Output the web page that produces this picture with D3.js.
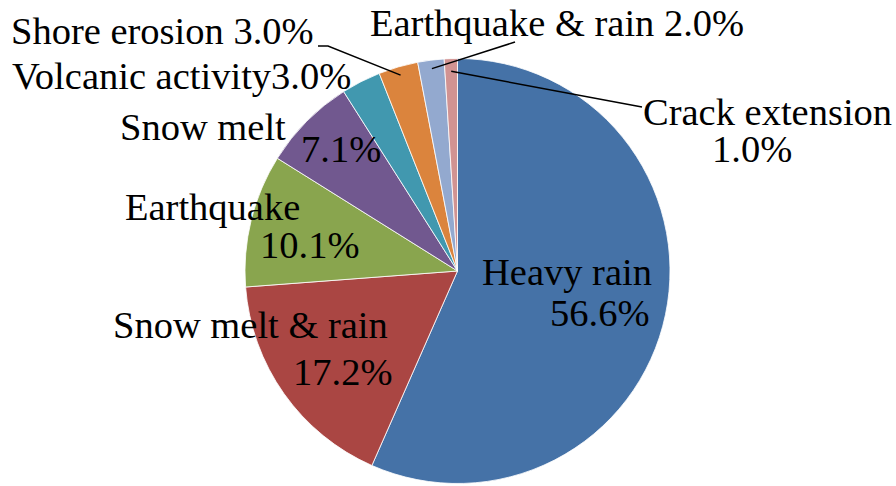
<!DOCTYPE html>
<html>
<head>
<meta charset="utf-8">
<script src="https://cdn.jsdelivr.net/npm/d3@7"></script>
<style>
  html, body { margin: 0; padding: 0; background: #fff; }
  svg { display: block; }
</style>
</head>
<body>
<svg id="chart" width="896" height="486"></svg>
<script>
// Landslide triggers, share of cases (%)
const categories = ["Heavy rain", "Snow melt & rain", "Earthquake", "Snow melt",
                    "Volcanic activity", "Shore erosion", "Earthquake & rain", "Crack extension"];
const values = [56.6, 17.2, 10.1, 7.1, 3.0, 3.0, 2.0, 1.0];
const colors = ["#4572A7", "#AA4643", "#89A54E", "#71588F",
                "#4198AF", "#DB843D", "#93A9CF", "#D19392"];

const cx = 457.5, cy = 271, R = 212.5;
const fontSize = 38.5;
const fontFamily = "'Liberation Serif', 'Times New Roman', Times, serif";

const svg = d3.select("#chart");
const g = svg.append("g").attr("transform", `translate(${cx},${cy})`);

const pie = d3.pie().sort(null).value(d => d.value).startAngle(0).endAngle(2 * Math.PI);
const arc = d3.arc().innerRadius(0).outerRadius(R);
const rows = categories.map((c, i) => ({ name: c, value: values[i], color: colors[i] }));
const arcs = pie(rows);

g.selectAll("path.slice")
  .data(arcs)
  .join("path")
  .attr("class", "slice")
  .attr("d", arc)
  .attr("fill", d => d.data.color)
  .attr("stroke", "#fff")
  .attr("stroke-width", 0.8);

const pct = v => v.toFixed(1) + "%";

// point on the pie (relative to centre) at a fraction of the radius, mid-angle of slice i
function onSlice(i, frac) {
  const a = (arcs[i].startAngle + arcs[i].endAngle) / 2;
  return [frac * R * Math.sin(a), -frac * R * Math.cos(a)];
}

// Label placement: each line is [text, x, y] in page coordinates (baseline, start anchor)
const labelLines = [
  [[categories[0], 482, 285], [pct(values[0]), 550, 326]],
  [[categories[1], 113, 338], [pct(values[1]), 293, 385]],
  [[categories[2], 125, 220], [pct(values[2]), 260, 258]],
  [[categories[3], 120, 140], [pct(values[3]), 301, 162]],
  [[categories[4] + pct(values[4]), 12, 89]],
  [[categories[5] + " " + pct(values[5]), 11, 44]],
  [[categories[6] + " " + pct(values[6]), 370, 36]],
  [[categories[7], 643, 125], [pct(values[7]), 712, 162]]
];

const lab = svg.append("g")
  .attr("font-family", fontFamily)
  .attr("font-size", fontSize)
  .attr("fill", "#000");
labelLines.forEach(lines => {
  lines.forEach(([t, x, y]) => {
    lab.append("text")
      .attr("x", x).attr("y", y)
      .text(t);
  });
});

// Leader lines for the small slices
const leaders = [
  { i: 5, from: [[318, 46], [328, 46]], frac: 0.96 },
  { i: 6, from: [[515, 42]], frac: 0.96 },
  { i: 7, from: [[642, 107]], frac: 0.94 }
];
leaders.forEach(l => {
  const p = onSlice(l.i, l.frac);
  const pts = l.from.concat([[cx + p[0], cy + p[1]]]);
  svg.append("path")
    .attr("d", d3.line()(pts))
    .attr("fill", "none")
    .attr("stroke", "#000")
    .attr("stroke-width", 1.5);
});
</script>
</body>
</html>
